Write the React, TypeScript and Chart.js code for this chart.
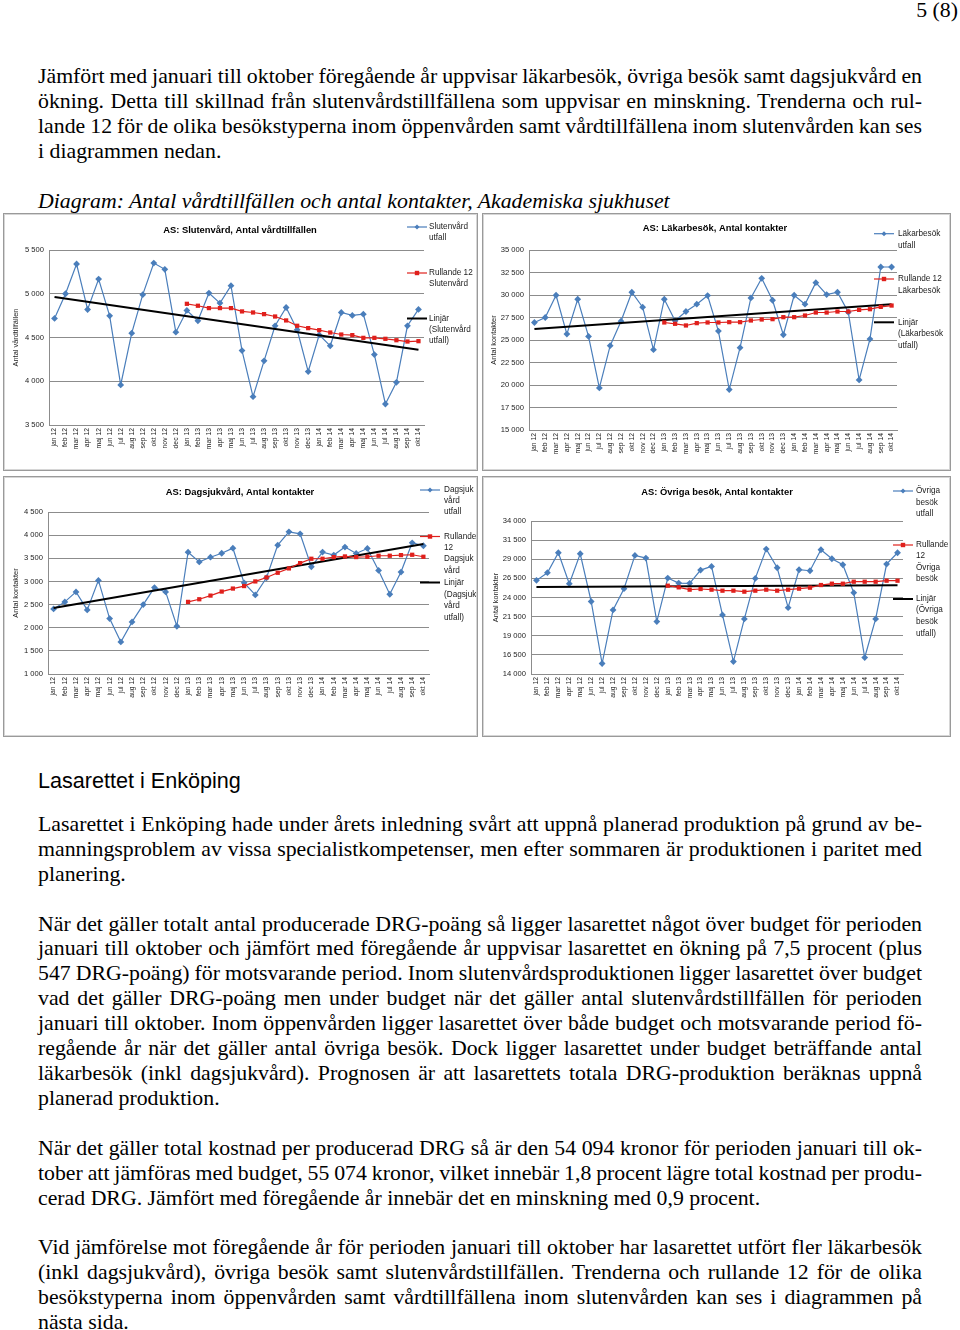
import React, { useEffect, useRef } from "react";
import { Chart, registerables } from "chart.js";
Chart.register(...registerables);

// ---------- DATA ----------
const months = [
  "jan 12", "feb 12", "mar 12", "apr 12", "maj 12", "jun 12", "jul 12", "aug 12", "sep 12", "okt 12", "nov 12", "dec 12",
  "jan 13", "feb 13", "mar 13", "apr 13", "maj 13", "jun 13", "jul 13", "aug 13", "sep 13", "okt 13", "nov 13", "dec 13",
  "jan 14", "feb 14", "mar 14", "apr 14", "maj 14", "jun 14", "jul 14", "aug 14", "sep 14", "okt 14",
];

const slutenUtfall = [4718, 5000, 5340, 4820, 5168, 4748, 3958, 4550, 4990, 5351, 5279, 4561,
  4809, 4691, 5008, 4893, 5092, 4351, 3824, 4233, 4634, 4843, 4588, 4111,
  4530, 4405, 4786, 4752, 4767, 4305, 3740, 3988, 4634, 4821];
const slutenRullande = [4885, 4863, 4836, 4836, 4836, 4798, 4786, 4767, 4740, 4695, 4634, 4607,
  4584, 4557, 4534, 4527, 4496, 4496, 4485, 4469, 4454, 4458];
const slutenTrendEnds = [4962, 4359];

const lakarUtfall = [26947, 27500, 29970, 25655, 29530, 25397, 19677, 24364, 27094, 30304, 28644, 23921,
  29530, 27131, 28164, 28976, 29935, 25987, 19493, 24142, 29677, 31854, 29419, 25581,
  29972, 28976, 31375, 30046, 30305, 28090, 20563, 25101, 33109, 33109];
const lakarRullande = [26947, 26800, 26615, 26873, 26947, 26947, 26983, 26983, 27168, 27279, 27316, 27537,
  27537, 27721, 28054, 28054, 28164, 28164, 28349, 28423, 28681, 28828];
const lakarTrendEnds = [26209, 28976];

const dagsUtfall = [2406, 2558, 2774, 2385, 3022, 2197, 1693, 2125, 2500, 2867, 2774, 2032,
  3631, 3422, 3523, 3609, 3718, 2970, 2709, 3080, 3784, 4072, 4029, 3317,
  3634, 3569, 3742, 3605, 3713, 3238, 2723, 3202, 3835, 3771];
const dagsRullande = [2558, 2615, 2694, 2781, 2846, 2900, 3000, 3086, 3187, 3281, 3396, 3490,
  3490, 3526, 3540, 3526, 3533, 3555, 3555, 3569, 3576, 3533];
const dagsTrendEnds = [2428, 3811];

const ovrigaUtfall = [26239, 27239, 29848, 25804, 29717, 23478, 15370, 22370, 25152, 29500, 29152, 20848,
  26543, 25891, 25848, 27587, 28065, 21717, 15630, 21196, 26500, 30326, 27891, 22674,
  27630, 27500, 30239, 29065, 28283, 24630, 16152, 21196, 28370, 29848];
const ovrigaRullande = [25543, 25326, 25022, 25109, 25022, 24891, 24891, 24761, 24891, 25022, 24891, 25022,
  25152, 25283, 25630, 25804, 25804, 26065, 26065, 26065, 26196, 26196];
const ovrigaTrendEnds = [25370, 25587];

// ---------- TEXT ----------
const introLines = [
  "Jämfört med januari till oktober föregående år uppvisar läkarbesök, övriga besök samt dagsjukvård en",
  "ökning. Detta till skillnad från slutenvårdstillfällena som uppvisar en minskning. Trenderna och rul-",
  "lande 12 för de olika besökstyperna inom öppenvården samt vårdtillfällena inom slutenvården kan ses",
  "i diagrammen nedan.",
];
const caption = "Diagram: Antal vårdtillfällen och antal kontakter, Akademiska sjukhuset";
const heading = "Lasarettet i Enköping";
const p1Lines = [
  "Lasarettet i Enköping hade under årets inledning svårt att uppnå planerad produktion på grund av be-",
  "manningsproblem av vissa specialistkompetenser, men efter sommaren är produktionen i paritet med",
  "planering.",
];
const p2Lines = [
  "När det gäller totalt antal producerade DRG-poäng så ligger lasarettet något över budget för perioden",
  "januari till oktober och jämfört med föregående år uppvisar lasarettet en ökning på 7,5 procent (plus",
  "547 DRG-poäng) för motsvarande period. Inom slutenvårdsproduktionen ligger lasarettet över budget",
  "vad det gäller DRG-poäng men under budget när det gäller antal slutenvårdstillfällen för perioden",
  "januari till oktober. Inom öppenvården ligger lasarettet över både budget och motsvarande period fö-",
  "regående år när det gäller antal övriga besök. Dock ligger lasarettet under budget beträffande antal",
  "läkarbesök (inkl dagsjukvård). Prognosen är att lasarettets totala DRG-produktion beräknas uppnå",
  "planerad produktion.",
];
const p3Lines = [
  "När det gäller total kostnad per producerad DRG så är den 54 094 kronor för perioden januari till ok-",
  "tober att jämföras med budget, 55 074 kronor, vilket innebär 1,8 procent lägre total kostnad per produ-",
  "cerad DRG. Jämfört med föregående år innebär det en minskning med 0,9 procent.",
];
const p4Lines = [
  "Vid jämförelse mot föregående år för perioden januari till oktober har lasarettet utfört fler läkarbesök",
  "(inkl dagsjukvård), övriga besök samt slutenvårdstillfällen. Trenderna och rullande 12 för de olika",
  "besökstyperna inom öppenvården samt vårdtillfällena inom slutenvården kan ses i diagrammen på",
  "nästa sida.",
];

// ---------- STYLE ----------
const BLUE = "#4a7ebb";
const RED = "#e0201c";
const GRID = "#8c8c8c";
const SANS = '"Liberation Sans", Arial, sans-serif';
const SERIF = '"Liberation Serif", "Times New Roman", serif';
const BODY = 21.8;

type LegendItem = { kind: "blue" | "red" | "black"; lineY: number; ys: number[]; lines: string[] };
type Spec = {
  box: { x: number; y: number; w: number; h: number };
  plot: { l: number; t: number; r: number; b: number };
  yMin: number; yMax: number; yStep: number;
  title: string; titleX: number; titleY: number;
  yTitle: string; yTitleX: number;
  legX1: number; legX2: number; legTX: number;
  legend: LegendItem[];
  utfall: number[]; rullande: number[]; trendEnds: number[];
};

const padNull = (vals: number[]) => (Array(months.length - vals.length).fill(null) as (number | null)[]).concat(vals);
const trendSeries = (ends: number[]) => months.map((_, i) => (i === 0 ? ends[0] : i === months.length - 1 ? ends[1] : null));
const fmt = (v: number) => String(v).replace(/\B(?=(\d{3})+(?!\d))/g, " ");

function makeDecor(s: Spec) {
  return {
    id: "decor",
    afterDraw(chart: any) {
      const ctx: CanvasRenderingContext2D = chart.ctx;
      const ox = s.box.x, oy = s.box.y;
      ctx.save();
      ctx.fillStyle = "#000";
      ctx.font = `bold 9.4px ${SANS}`;
      ctx.textAlign = "center";
      ctx.textBaseline = "middle";
      ctx.fillText(s.title, s.titleX - ox, s.titleY - oy);
      ctx.save();
      ctx.translate(s.yTitleX - ox, (chart.chartArea.top + chart.chartArea.bottom) / 2);
      ctx.rotate(-Math.PI / 2);
      ctx.font = `7.4px ${SANS}`;
      ctx.fillStyle = "#222";
      ctx.fillText(s.yTitle, 0, 0);
      ctx.restore();
      for (const it of s.legend) {
        const x1 = s.legX1 - ox, x2 = s.legX2 - ox, y = it.lineY - oy;
        const cx = (x1 + x2) / 2;
        ctx.beginPath();
        ctx.moveTo(x1, y);
        ctx.lineTo(x2, y);
        if (it.kind === "blue") { ctx.strokeStyle = BLUE; ctx.lineWidth = 1.2; }
        else if (it.kind === "red") { ctx.strokeStyle = RED; ctx.lineWidth = 1.2; }
        else { ctx.strokeStyle = "#000"; ctx.lineWidth = 2; }
        ctx.stroke();
        if (it.kind === "blue") {
          ctx.fillStyle = BLUE;
          ctx.beginPath();
          ctx.moveTo(cx, y - 2.5); ctx.lineTo(cx + 2.5, y); ctx.lineTo(cx, y + 2.5); ctx.lineTo(cx - 2.5, y);
          ctx.closePath(); ctx.fill();
        } else if (it.kind === "red") {
          ctx.fillStyle = RED;
          ctx.fillRect(cx - 2.2, y - 2.2, 4.4, 4.4);
        }
        ctx.fillStyle = "#222";
        ctx.font = `8.2px ${SANS}`;
        ctx.textAlign = "left";
        ctx.textBaseline = "middle";
        it.lines.forEach((ln, k) => ctx.fillText(ln, s.legTX - ox, it.ys[k] - oy));
      }
      ctx.restore();
    },
  };
}

function ExcelChart({ spec }: { spec: Spec }) {
  const ref = useRef<HTMLCanvasElement>(null);
  const { box, plot } = spec;
  useEffect(() => {
    const c = ref.current!;
    const relL = plot.l - box.x, relT = plot.t - box.y, relR = plot.r - box.x, relB = plot.b - box.y;
    const chart = new Chart(c, {
      type: "line",
      data: {
        labels: months,
        datasets: [
          {
            label: "utfall", data: spec.utfall, borderColor: BLUE, backgroundColor: BLUE, borderWidth: 1.2,
            pointStyle: "rectRot", pointRadius: 3.4, pointBackgroundColor: BLUE, pointBorderWidth: 0, order: 3, tension: 0,
          },
          {
            label: "rullande", data: padNull(spec.rullande), borderColor: RED, backgroundColor: RED, borderWidth: 1.2,
            pointStyle: "rect", pointRadius: 3, pointBackgroundColor: RED, pointBorderWidth: 0, order: 1, tension: 0,
          },
          {
            label: "trend", data: trendSeries(spec.trendEnds), borderColor: "#000", borderWidth: 2,
            pointRadius: 0, spanGaps: true, order: 2, tension: 0,
          },
        ] as any,
      },
      options: {
        responsive: false,
        animation: false,
        devicePixelRatio: 1,
        events: [],
        layout: { autoPadding: false, padding: { left: 0, top: relT, right: box.w - relR, bottom: 0 } } as any,
        plugins: { legend: { display: false }, tooltip: { enabled: false }, title: { display: false } },
        scales: {
          x: {
            offset: true,
            grid: { display: false, drawTicks: false },
            border: { display: true, color: GRID },
            ticks: { autoSkip: false, minRotation: 90, maxRotation: 90, padding: 3, color: "#222", font: { family: SANS, size: 6.8 } },
            afterFit: (sc: any) => { sc.height = box.h - relB; },
          },
          y: {
            min: spec.yMin, max: spec.yMax,
            grid: { color: GRID, drawTicks: false, lineWidth: 1 },
            border: { display: true, color: GRID },
            ticks: { stepSize: spec.yStep, padding: 5, color: "#222", font: { family: SANS, size: 7.6 }, callback: (v: any) => fmt(Number(v)) },
            afterFit: (sc: any) => { sc.width = relL; },
          },
        },
      } as any,
      plugins: [makeDecor(spec)],
    });
    return () => chart.destroy();
  }, [spec]);
  return (
    <>
      <canvas ref={ref} width={box.w} height={box.h} style={{ position: "absolute", left: box.x, top: box.y, width: box.w, height: box.h }} />
      <div style={{ position: "absolute", left: box.x, top: box.y, width: box.w, height: box.h, boxSizing: "border-box", border: "1px solid #9a9a9a", boxShadow: "inset 0 0 0 1px #d6d6d6", pointerEvents: "none" }} />
    </>
  );
}

const specs: Spec[] = [
  {
    box: { x: 3, y: 213, w: 475, h: 258 }, plot: { l: 49, t: 250, r: 424, b: 425 },
    yMin: 3500, yMax: 5500, yStep: 500,
    title: "AS: Slutenvård, Antal vårdtillfällen", titleX: 240, titleY: 230,
    yTitle: "Antal vårdtillfällen", yTitleX: 16,
    legX1: 407, legX2: 427, legTX: 429,
    legend: [
      { kind: "blue", lineY: 227, ys: [227, 238], lines: ["Slutenvård", "utfall"] },
      { kind: "red", lineY: 273, ys: [273, 284], lines: ["Rullande 12", "Slutenvård"] },
      { kind: "black", lineY: 318.5, ys: [318.5, 329.5, 340.5], lines: ["Linjär", "(Slutenvård", "utfall)"] },
    ],
    utfall: slutenUtfall, rullande: slutenRullande, trendEnds: slutenTrendEnds,
  },
  {
    box: { x: 482, y: 213, w: 469, h: 258 }, plot: { l: 529, t: 250, r: 897, b: 430 },
    yMin: 15000, yMax: 35000, yStep: 2500,
    title: "AS: Läkarbesök, Antal kontakter", titleX: 715, titleY: 228,
    yTitle: "Antal kontakter", yTitleX: 494,
    legX1: 874, legX2: 894, legTX: 898,
    legend: [
      { kind: "blue", lineY: 233.7, ys: [233.7, 245.3], lines: ["Läkarbesök", "utfall"] },
      { kind: "red", lineY: 279, ys: [279, 290.7], lines: ["Rullande 12", "Läkarbesök"] },
      { kind: "black", lineY: 322.3, ys: [322.3, 333.7, 345.7], lines: ["Linjär", "(Läkarbesök", "utfall)"] },
    ],
    utfall: lakarUtfall, rullande: lakarRullande, trendEnds: lakarTrendEnds,
  },
  {
    box: { x: 3, y: 476, w: 475, h: 261 }, plot: { l: 48, t: 512, r: 429, b: 674 },
    yMin: 1000, yMax: 4500, yStep: 500,
    title: "AS: Dagsjukvård, Antal kontakter", titleX: 240, titleY: 492,
    yTitle: "Antal kontakter", yTitleX: 15.7,
    legX1: 420, legX2: 440, legTX: 444,
    legend: [
      { kind: "blue", lineY: 490, ys: [490, 501, 511.7], lines: ["Dagsjuk", "vård", "utfall"] },
      { kind: "red", lineY: 536.5, ys: [536.7, 547.7, 559, 570.7], lines: ["Rullande", "12", "Dagsjuk", "vård"] },
      { kind: "black", lineY: 582.5, ys: [582.7, 594.3, 605.7, 617.7], lines: ["Linjär", "(Dagsjuk", "vård", "utfall)"] },
    ],
    utfall: dagsUtfall, rullande: dagsRullande, trendEnds: dagsTrendEnds,
  },
  {
    box: { x: 482, y: 476, w: 469, h: 261 }, plot: { l: 531, t: 521, r: 903, b: 674 },
    yMin: 14000, yMax: 34000, yStep: 2500,
    title: "AS: Övriga besök, Antal kontakter", titleX: 717, titleY: 492,
    yTitle: "Antal kontakter", yTitleX: 496,
    legX1: 893, legX2: 913, legTX: 916,
    legend: [
      { kind: "blue", lineY: 491, ys: [491, 502.3, 513.3], lines: ["Övriga", "besök", "utfall"] },
      { kind: "red", lineY: 545, ys: [545, 556, 567.3, 578.3], lines: ["Rullande", "12", "Övriga", "besök"] },
      { kind: "black", lineY: 599, ys: [599, 610, 621.7, 633.3], lines: ["Linjär", "(Övriga", "besök", "utfall)"] },
    ],
    utfall: ovrigaUtfall, rullande: ovrigaRullande, trendEnds: ovrigaTrendEnds,
  },
];

function TextBlock({ lines, firstY, step }: { lines: string[]; firstY: number; step: number }) {
  return (
    <>
      {lines.map((ln, i) => {
        const last = i === lines.length - 1;
        return (
          <div key={i} style={{
            position: "absolute", left: 38, top: firstY + i * step - 12.5, width: 884, height: 25,
            lineHeight: "25px", fontFamily: SERIF, fontSize: BODY, color: "#000", whiteSpace: "nowrap",
            wordSpacing: last ? "0px" : "-1px",
            textAlign: last ? "left" : "justify", textAlignLast: last ? "left" : "justify",
          } as any}>{ln}</div>
        );
      })}
    </>
  );
}

export default function App() {
  return (
    <div style={{ position: "absolute", left: 0, top: 0, width: 960, height: 1330, background: "#fff", overflow: "hidden" }}>
      <div style={{ position: "absolute", right: 2, top: -2, height: 25, lineHeight: "25px", fontFamily: SERIF, fontSize: BODY }}>5 (8)</div>
      <TextBlock lines={introLines} firstY={76} step={25} />
      <div style={{ position: "absolute", left: 38, top: 201 - 12.5, height: 25, lineHeight: "25px", fontFamily: SERIF, fontSize: BODY, fontStyle: "italic", whiteSpace: "nowrap" }}>{caption}</div>
      {specs.map((s, i) => <ExcelChart key={i} spec={s} />)}
      <div style={{ position: "absolute", left: 38, top: 781 - 13, height: 26, lineHeight: "26px", fontFamily: SANS, fontSize: 21.6, whiteSpace: "nowrap" }}>{heading}</div>
      <TextBlock lines={p1Lines} firstY={824} step={25} />
      <TextBlock lines={p2Lines} firstY={924} step={24.9} />
      <TextBlock lines={p3Lines} firstY={1148} step={25} />
      <TextBlock lines={p4Lines} firstY={1247} step={25} />
    </div>
  );
}
